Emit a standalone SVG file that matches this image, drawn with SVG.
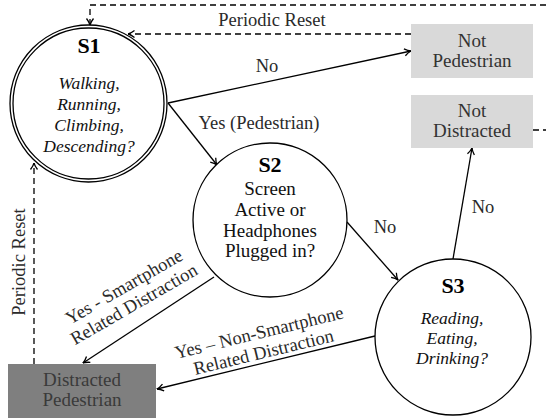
<svg xmlns="http://www.w3.org/2000/svg" width="546" height="419" viewBox="0 0 546 419">
<style>
text{font-family:"Liberation Serif","Times New Roman",serif;fill:#222}
.lbl{font-size:18.5px;text-anchor:middle;fill:#2a2a2a}
.st{font-size:22px;font-weight:bold;text-anchor:middle;fill:#000}
.it{font-size:17.5px;font-style:italic;text-anchor:middle;fill:#111}
.bd{font-size:19px;text-anchor:middle;fill:#111}
.bx{font-size:19px;text-anchor:middle;fill:#333}
.bxd{font-size:19px;text-anchor:middle;fill:#3a3a3a}
.circ{fill:#fff;stroke:#000;stroke-width:1.3}
.ln{fill:none;stroke:#000;stroke-width:1.3}
.dash{fill:none;stroke:#000;stroke-width:1.3;stroke-dasharray:6 4}
</style>
<defs>
<marker id="arr" viewBox="0 0 10 10" refX="9.5" refY="5" markerWidth="10" markerHeight="10" markerUnits="userSpaceOnUse" orient="auto">
<path d="M3,1.5 Q6.5,4.2 9.5,5 Q6.5,5.8 3,8.5" fill="none" stroke="#000" stroke-width="1.3" stroke-dasharray="none"/>
</marker>
</defs>
<g id="connectors">
<path class="dash" d="M546 5 H90 V25" marker-end="url(#arr)"/>
<path class="dash" d="M411 34 H128" marker-end="url(#arr)"/>
<path class="dash" d="M34 364 V163" marker-end="url(#arr)"/>
<path class="dash" d="M533 130 H546"/>
<path class="ln" d="M168 103 L411 51" marker-end="url(#arr)"/>
<path class="ln" d="M168 103 L217 165" marker-end="url(#arr)"/>
<path class="ln" d="M347 222 L398 280" marker-end="url(#arr)"/>
<path class="ln" d="M453 259 L472 148" marker-end="url(#arr)"/>
<path class="ln" d="M214 277 L83 363" marker-end="url(#arr)"/>
<path class="ln" d="M375 336 L157 389" marker-end="url(#arr)"/>
<text class="lbl" x="272" y="26">Periodic Reset</text>
<text class="lbl" x="267" y="72">No</text>
<text class="lbl" x="259" y="129">Yes (Pedestrian)</text>
<text class="lbl" x="385" y="233">No</text>
<text class="lbl" x="483" y="213">No</text>
<text class="lbl" x="25" y="262" transform="rotate(-90 25 262)">Periodic Reset</text>
<text class="lbl" transform="translate(127 292) rotate(-30)">Yes - Smartphone</text>
<text class="lbl" transform="translate(137 309.5) rotate(-30)">Related Distraction</text>
<text class="lbl" transform="translate(260.5 338.5) rotate(-13.7)">Yes – Non-Smartphone</text>
<text class="lbl" transform="translate(265 358) rotate(-13.7)">Related Distraction</text>
</g>
<g id="S1">
<circle class="circ" cx="88.5" cy="103.5" r="78.5"/>
<circle class="ln" cx="88.5" cy="103.5" r="75.5" stroke-width="1"/>
<text class="st" x="89" y="53">S1</text>
<text class="it" x="89" y="89">Walking,</text>
<text class="it" x="89" y="110">Running,</text>
<text class="it" x="89" y="131">Climbing,</text>
<text class="it" x="89" y="152">Descending?</text>
</g>
<g id="S2">
<circle class="circ" cx="270" cy="220" r="77"/>
<text class="st" x="270" y="172">S2</text>
<text class="bd" x="270" y="195">Screen</text>
<text class="bd" x="270" y="216">Active or</text>
<text class="bd" x="270" y="237">Headphones</text>
<text class="bd" x="270" y="257">Plugged in?</text>
</g>
<g id="S3">
<circle class="circ" cx="453" cy="337" r="78"/>
<text class="st" x="453" y="293">S3</text>
<text class="it" x="452" y="324">Reading,</text>
<text class="it" x="452" y="344">Eating,</text>
<text class="it" x="452" y="364">Drinking?</text>
</g>
<g id="NotPedestrian">
<rect x="411" y="24" width="122" height="54" fill="#d9d9d9"/>
<text class="bx" x="472" y="47">Not</text>
<text class="bx" x="472" y="67">Pedestrian</text>
</g>
<g id="NotDistracted">
<rect x="411" y="95" width="122" height="53" fill="#d9d9d9"/>
<text class="bx" x="472" y="117">Not</text>
<text class="bx" x="472" y="137">Distracted</text>
</g>
<g id="DistractedPedestrian">
<rect x="8" y="364" width="148" height="54" fill="#7f7f7f"/>
<text class="bxd" x="82" y="386">Distracted</text>
<text class="bxd" x="82" y="406">Pedestrian</text>
</g>
</svg>
